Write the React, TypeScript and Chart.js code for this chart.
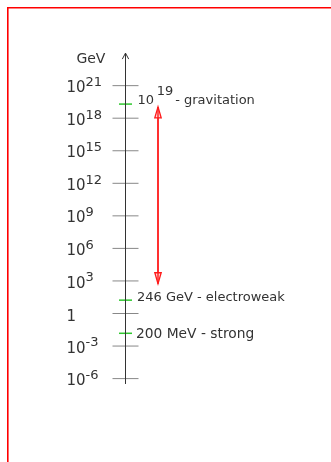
import React, { useEffect, useRef } from "react";
import { Chart, registerables } from "chart.js";

Chart.register(...registerables);

// ---- data (energies in GeV, as drawn on the schematic axis) ----
const UNIT_LABEL = "GeV";
const TICK_EXPONENTS = [-6, -3, 0, 3, 6, 9, 12, 15, 18, 21];
const AXIS_ENDS = [3.2e-7, 1e24];
const SCALE_ENERGIES = [2e19, 17, 0.015];
const SCALE_LABELS = ["10^19 - gravitation", "246 GeV - electroweak", "200 MeV - strong"];
const ARROW_ENDS = [1.1e19, 5.5e2];

// ---- layout / style ----
const W = 331;
const H = 462;
const AXIS_X = 0;
const ARROW_X = 32.5;
const FONT = '"DejaVu Sans", sans-serif';
const TEXT = "#333333";
const AXIS_COLOR = "#333333";
const TICK_COLOR = "#888888";
const GREEN = "#2ec82e";
const RED = "#ff1a1a";
const FRAME_RED = "#ff0000";
const LABEL_DX = [12.1, 11.5, 10.5];
const LABEL_DY = [0.3, 1.2, 4.5];
const LABEL_SIZE = [13, 13, 13.8];

const frame = {
  id: "frame",
  beforeDraw(chart: any) {
    const ctx = chart.ctx as CanvasRenderingContext2D;
    ctx.save();
    ctx.fillStyle = "#ffffff";
    ctx.fillRect(0, 0, W, H);
    ctx.strokeStyle = FRAME_RED;
    ctx.lineWidth = 1.6;
    ctx.beginPath();
    ctx.moveTo(7.8, H);
    ctx.lineTo(7.8, 7.8);
    ctx.lineTo(W, 7.8);
    ctx.stroke();
    ctx.restore();
  },
};

const annotations = {
  id: "annotations",
  afterDatasetsDraw(chart: any) {
    const ctx = chart.ctx as CanvasRenderingContext2D;
    const ys = chart.scales.y;
    const xs = chart.scales.x;
    const ax = xs.getPixelForValue(AXIS_X);
    ctx.save();

    // axis arrowhead (open chevron)
    const axisMeta = chart.getDatasetMeta(0);
    const top = axisMeta.data[1];
    ctx.strokeStyle = AXIS_COLOR;
    ctx.lineWidth = 1;
    ctx.beginPath();
    ctx.moveTo(top.x - 3.2, top.y + 6);
    ctx.lineTo(top.x, top.y);
    ctx.lineTo(top.x + 3.2, top.y + 6);
    ctx.stroke();

    // red double arrow heads
    const am = chart.getDatasetMeta(3);
    const heads = [
      [am.data[0], 1],
      [am.data[1], -1],
    ];
    ctx.strokeStyle = RED;
    ctx.lineWidth = 1.3;
    for (const [pt, dir] of heads as any) {
      ctx.beginPath();
      ctx.moveTo(pt.x, pt.y);
      ctx.lineTo(pt.x - 3.2, pt.y + dir * 11);
      ctx.lineTo(pt.x + 3.2, pt.y + dir * 11);
      ctx.closePath();
      ctx.fillStyle = "rgba(255,215,215,0.9)";
      ctx.fill();
      ctx.stroke();
      ctx.beginPath();
      ctx.moveTo(pt.x, pt.y + dir * 2);
      ctx.lineTo(pt.x, pt.y + dir * 11);
      ctx.stroke();
    }

    ctx.fillStyle = TEXT;
    ctx.textBaseline = "alphabetic";

    // unit label
    ctx.font = `14px ${FONT}`;
    ctx.textAlign = "center";
    ctx.fillText(UNIT_LABEL, ax - 34.6, top.y + 9.7);

    // tick labels
    ctx.textAlign = "left";
    const lx = ax - 59;
    for (const e of TICK_EXPONENTS) {
      const y = ys.getPixelForValue(Math.pow(10, e));
      if (e === 0) {
        ctx.font = `15px ${FONT}`;
        ctx.fillText("1", lx, y + 7);
        continue;
      }
      ctx.font = `15px ${FONT}`;
      ctx.fillText("10", lx, y + 6.6);
      const w = ctx.measureText("10").width;
      ctx.font = `13px ${FONT}`;
      ctx.fillText(String(e), lx + w, y + 0.3);
    }

    // scale labels
    SCALE_LABELS.forEach((label, i) => {
      ctx.font = `${LABEL_SIZE[i]}px ${FONT}`;
      const y = ys.getPixelForValue(SCALE_ENERGIES[i]) + LABEL_DY[i];
      const x0 = ax + LABEL_DX[i];
      const m = label.match(/^(\S+)\^(\S+)\s(.*)$/);
      if (m) {
        ctx.fillText(m[1], x0, y);
        const x1 = x0 + ctx.measureText(m[1]).width + 2.5;
        ctx.fillText(m[2], x1, y - 9);
        const x2 = x1 + ctx.measureText(m[2]).width + 2;
        ctx.fillText(m[3], x2, y);
      } else {
        ctx.fillText(label, x0, y);
      }
    });

    ctx.restore();
  },
};

export default function App() {
  const ref = useRef<HTMLCanvasElement | null>(null);

  useEffect(() => {
    if (!ref.current) return;
    const chart = new Chart(ref.current, {
      type: "scatter",
      data: {
        datasets: [
          {
            label: "axis",
            data: [
              { x: AXIS_X, y: AXIS_ENDS[0] },
              { x: AXIS_X, y: AXIS_ENDS[1] },
            ],
            showLine: true,
            borderColor: AXIS_COLOR,
            borderWidth: 1,
            pointRadius: 0,
          },
          {
            label: "scales",
            data: SCALE_ENERGIES.map((v) => ({ x: AXIS_X, y: v })),
            pointStyle: "line",
            pointRadius: 6.5,
            pointBorderColor: GREEN,
            pointBorderWidth: 1.5,
            pointBackgroundColor: "rgba(0,0,0,0)",
          },
          {
            label: "ticks",
            data: TICK_EXPONENTS.map((e) => ({ x: AXIS_X, y: Math.pow(10, e) })),
            pointStyle: "line",
            pointRadius: 13,
            pointBorderColor: TICK_COLOR,
            pointBorderWidth: 1,
            pointBackgroundColor: "rgba(0,0,0,0)",
          },
          {
            label: "range",
            data: ARROW_ENDS.map((v) => ({ x: ARROW_X, y: v })),
            showLine: true,
            borderColor: RED,
            borderWidth: 1.8,
            pointRadius: 0,
          },
        ],
      },
      options: {
        animation: false,
        responsive: false,
        events: [],
        layout: { padding: 0, autoPadding: false },
        plugins: {
          legend: { display: false },
          tooltip: { enabled: false },
        },
        scales: {
          x: {
            type: "linear",
            display: false,
            min: -125.5,
            max: 205.5,
            bounds: "data",
          },
          y: {
            type: "logarithmic",
            display: false,
            min: Math.pow(10, -(H - 313.5) / 10.85),
            max: Math.pow(10, 313.5 / 10.85),
            bounds: "data",
          },
        },
      },
      plugins: [frame, annotations],
    });
    return () => chart.destroy();
  }, []);

  return (
    <div
      style={{
        position: "fixed",
        left: 0,
        top: 0,
        width: W,
        height: H,
        overflow: "hidden",
        background: "#ffffff",
      }}
    >
      <canvas ref={ref} width={W} height={H} style={{ width: W, height: H, display: "block" }} />
    </div>
  );
}
